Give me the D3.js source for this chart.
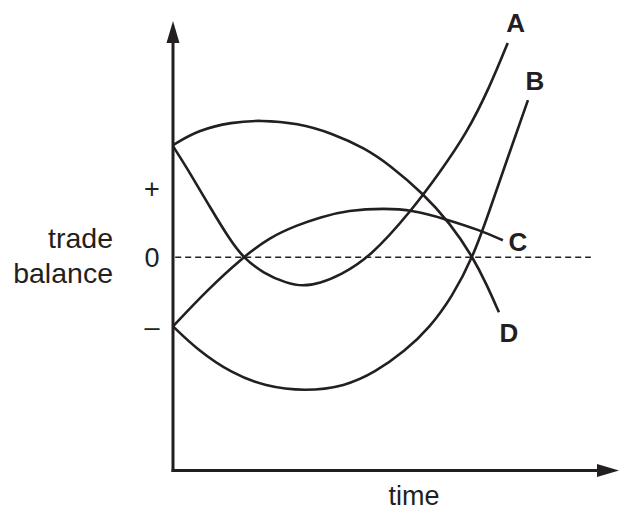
<!DOCTYPE html>
<html lang="en">
<head>
    <meta charset="UTF-8">
    <title>Trade balance over time</title>
    <script src="https://cdn.jsdelivr.net/npm/d3@7"></script>
    <style>
        body { margin: 0; background: #fff; }
        text { font-family: "Liberation Sans", Arial, sans-serif; fill: #231f20; }
        .curve-label { font-weight: bold; }
    </style>
</head>
<body>
    <svg width="621" height="512"></svg>
    <script>
        // curves: time (0..100) and trade balance
        var timeA = [0, 3.9, 8.4, 13.0, 15.9, 20.5, 25.9, 29.5, 33.4, 38.0, 44.8, 54.3, 60.7, 66.8, 72.0, 76.1];
        var balA  = [1.11, 0.84, 0.50, 0.17, 0, -0.16, -0.26, -0.29, -0.26, -0.18, 0, 0.47, 0.85, 1.24, 1.70, 2.14];

        var timeB = [0, 5.7, 13.4, 20.9, 30.0, 39.1, 45.9, 52.7, 58.4, 63.4, 68.2, 72.0, 75.9, 80.7];
        var balB  = [-0.69, -0.93, -1.16, -1.29, -1.34, -1.29, -1.15, -0.94, -0.70, -0.40, 0, 0.47, 0.97, 1.57];

        var timeC = [0, 7.7, 15.9, 22.0, 28.2, 33.4, 39.8, 48.2, 54.5, 61.4, 69.8, 75.0];
        var balC  = [-0.69, -0.33, 0, 0.20, 0.32, 0.40, 0.47, 0.49, 0.47, 0.39, 0.27, 0.17];

        var timeD = [0, 5.7, 13.4, 19.8, 28.4, 36.1, 43.6, 49.3, 56.8, 63.0, 68.2, 71.4, 74.1];
        var balD  = [1.12, 1.27, 1.35, 1.37, 1.34, 1.24, 1.09, 0.92, 0.64, 0.34, 0, -0.28, -0.55];

        var curveNames = ["A", "B", "C", "D"];
        var tickValues = [0.69, 0, -0.69];
        var tickLabels = ["+", "0", "\u2013"];

        var ink = "#231f20";
        var svg = d3.select("svg");

        var x = d3.scaleLinear().domain([0, 101.4]).range([173, 619]);
        var y = d3.scaleLinear().domain([-2.13, 2.36]).range([470.5, 21]);

        var series = [
            {name: curveNames[0], t: timeA, v: balA},
            {name: curveNames[1], t: timeB, v: balB},
            {name: curveNames[2], t: timeC, v: balC},
            {name: curveNames[3], t: timeD, v: balD}
        ];

        // zero line
        svg.append("line")
            .attr("x1", x(0.5)).attr("x2", x(95))
            .attr("y1", y(0)).attr("y2", y(0))
            .attr("stroke", ink)
            .attr("stroke-width", 1.3)
            .attr("stroke-dasharray", "6,4");

        var line = d3.line()
            .x(function(d) { return x(d[0]); })
            .y(function(d) { return y(d[1]); })
            .curve(d3.curveBasis);

        svg.selectAll(".curve")
            .data(series)
            .enter()
            .append("path")
            .attr("class", "curve")
            .attr("fill", "none")
            .attr("stroke", ink)
            .attr("stroke-width", 2.6)
            .attr("d", function(s) { return line(d3.zip(s.t, s.v)); });

        // axes with arrow heads
        var x0 = x(0), yBottom = y.range()[0], yTop = y.range()[1], xRight = x.range()[1];
        svg.append("line")
            .attr("x1", x0).attr("x2", x0)
            .attr("y1", yBottom + 1.5).attr("y2", yTop + 18)
            .attr("stroke", ink).attr("stroke-width", 3);
        svg.append("path")
            .attr("d", "M" + x0 + "," + yTop + "L" + (x0 - 6.5) + "," + (yTop + 22) + "L" + (x0 + 6.5) + "," + (yTop + 22) + "Z")
            .attr("fill", ink);
        svg.append("line")
            .attr("x1", x0 - 1.5).attr("x2", xRight - 18)
            .attr("y1", yBottom).attr("y2", yBottom)
            .attr("stroke", ink).attr("stroke-width", 3);
        svg.append("path")
            .attr("d", "M" + xRight + "," + yBottom + "L" + (xRight - 22) + "," + (yBottom - 6.5) + "L" + (xRight - 22) + "," + (yBottom + 6.5) + "Z")
            .attr("fill", ink);

        // y tick labels
        svg.selectAll(".tick-label")
            .data(tickValues)
            .enter()
            .append("text")
            .attr("class", "tick-label")
            .attr("x", 152)
            .attr("y", function(d) { return y(d); })
            .attr("dy", "0.35em")
            .attr("text-anchor", "middle")
            .style("font-size", "27px")
            .text(function(d, i) { return tickLabels[i]; });

        // axis titles
        var yTitle = svg.append("text")
            .attr("text-anchor", "end")
            .style("font-size", "28.5px");
        yTitle.append("tspan").attr("x", 113).attr("y", 248).text("trade");
        yTitle.append("tspan").attr("x", 113).attr("y", 283).text("balance");

        svg.append("text")
            .attr("x", 414)
            .attr("y", 505)
            .attr("text-anchor", "middle")
            .style("font-size", "27px")
            .text("time");

        // curve labels next to their ends
        var labelOffset = {A: [8, -11], B: [7, -10], C: [15, 11], D: [10, 30]};
        svg.selectAll(".curve-label")
            .data(series)
            .enter()
            .append("text")
            .attr("class", "curve-label")
            .attr("x", function(s) { return x(s.t[s.t.length - 1]) + labelOffset[s.name][0]; })
            .attr("y", function(s) { return y(s.v[s.v.length - 1]) + labelOffset[s.name][1]; })
            .attr("text-anchor", "middle")
            .style("font-size", "26px")
            .text(function(s) { return s.name; });
    </script>
</body>
</html>
